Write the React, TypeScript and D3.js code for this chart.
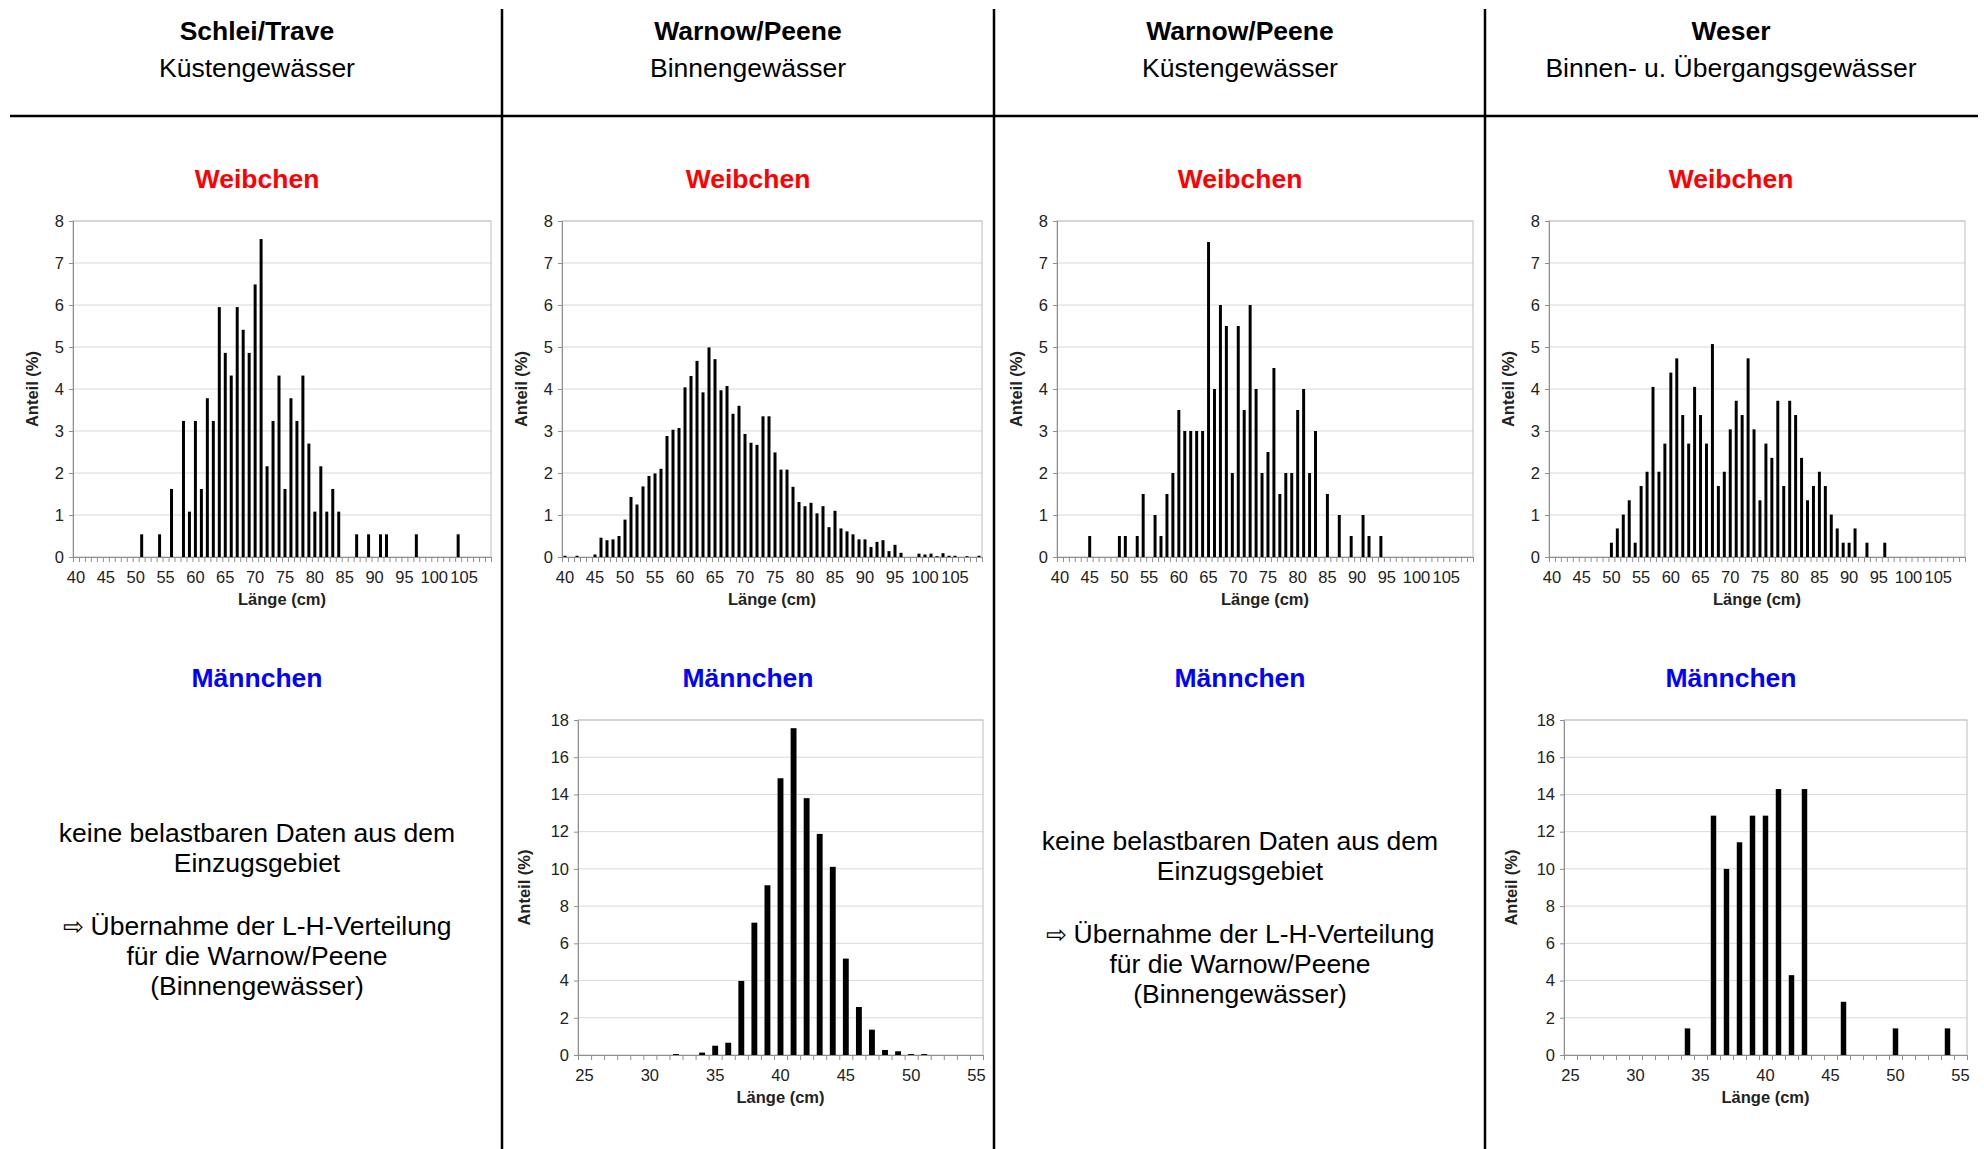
import React, { useEffect, useRef } from "react"
import * as d3 from "d3"

// length classes (cm)
const femaleLengths = d3.range(40, 110)
const maleLengths = d3.range(25, 56)
const femaleTickLabels = [40, 45, 50, 55, 60, 65, 70, 75, 80, 85, 90, 95, 100, 105]
const maleTickLabels = [25, 30, 35, 40, 45, 50, 55]
const femaleYTicks = [0, 1, 2, 3, 4, 5, 6, 7, 8]
const maleYTicks = [0, 2, 4, 6, 8, 10, 12, 14, 16, 18]

// Anteil (%) per length class, 40..109 cm
const schleiTraveFemale = [
  0, 0, 0, 0, 0, 0, 0, 0, 0, 0,
  0, 0.54, 0, 0, 0.54, 0, 1.62, 0, 3.24, 1.08,
  3.24, 1.62, 3.78, 3.24, 5.95, 4.86, 4.32, 5.95, 5.41, 4.86,
  6.49, 7.57, 2.16, 3.24, 4.32, 1.62, 3.78, 3.24, 4.32, 2.7,
  1.08, 2.16, 1.08, 1.62, 1.08, 0, 0, 0.54, 0, 0.54,
  0, 0.54, 0.54, 0, 0, 0, 0, 0.54, 0, 0,
  0, 0, 0, 0, 0.54, 0, 0, 0, 0, 0,
]
const warnowBinnenFemale = [
  0.03, 0, 0.03, 0, 0, 0.06, 0.46, 0.4, 0.42, 0.5,
  0.89, 1.43, 1.25, 1.68, 1.93, 1.99, 2.1, 2.88, 3.03, 3.07,
  4.04, 4.31, 4.67, 3.92, 4.99, 4.71, 3.97, 4.07, 3.41, 3.6,
  2.93, 2.72, 2.67, 3.35, 3.35, 2.49, 2.08, 2.08, 1.67, 1.31,
  1.21, 1.29, 1.04, 1.21, 0.71, 1.1, 0.68, 0.61, 0.54, 0.42,
  0.42, 0.24, 0.36, 0.4, 0.14, 0.29, 0.1, 0, 0, 0.08,
  0.06, 0.08, 0.02, 0.09, 0.03, 0.03, 0, 0.02, 0, 0.03,
]
const warnowKuesteFemale = [
  0, 0, 0, 0, 0, 0.5, 0, 0, 0, 0,
  0.5, 0.5, 0, 0.5, 1.5, 0, 1, 0.5, 1.5, 2,
  3.5, 3, 3, 3, 3, 7.5, 4, 6, 5.5, 2,
  5.5, 3.5, 6, 4, 2, 2.5, 4.5, 1.5, 2, 2,
  3.5, 4, 2, 3, 0, 1.5, 0, 1, 0, 0.5,
  0, 1, 0.5, 0, 0.5, 0, 0, 0, 0, 0,
  0, 0, 0, 0, 0, 0, 0, 0, 0, 0,
]
const weserFemale = [
  0, 0, 0, 0, 0, 0, 0, 0, 0, 0,
  0.34, 0.68, 1.01, 1.35, 0.34, 1.69, 2.03, 4.05, 2.03, 2.7,
  4.39, 4.73, 3.38, 2.7, 4.05, 3.38, 2.7, 5.07, 1.69, 2.03,
  3.04, 3.72, 3.38, 4.73, 3.04, 1.35, 2.7, 2.36, 3.72, 1.69,
  3.72, 3.38, 2.36, 1.35, 1.69, 2.03, 1.69, 1.01, 0.68, 0.34,
  0.34, 0.68, 0, 0.34, 0, 0, 0.34, 0, 0, 0,
  0, 0, 0, 0, 0, 0, 0, 0, 0, 0,
]

// Anteil (%) per length class, 25..55 cm
const warnowBinnenMale = [
  0, 0, 0, 0, 0, 0, 0, 0.05, 0, 0.13,
  0.5, 0.66, 3.98, 7.11, 9.12, 14.87, 17.56, 13.8, 11.88, 10.11,
  5.18, 2.58, 1.36, 0.27, 0.2, 0.05, 0.05, 0, 0, 0,
  0,
]
const weserMale = [
  0, 0, 0, 0, 0, 0, 0, 0, 0, 1.43,
  0, 12.86, 10, 11.43, 12.86, 12.86, 14.29, 4.29, 14.29, 0,
  0, 2.86, 0, 0, 0, 1.43, 0, 0, 0, 1.43,
  0,
]

const regions = ["Schlei/Trave", "Warnow/Peene", "Warnow/Peene", "Weser"]
const waterTypes = ["Küstengewässer", "Binnengewässer", "Küstengewässer", "Binnen- u. Übergangsgewässer"]
const noDataLines = [
  "keine belastbaren Daten aus dem",
  "Einzugsgebiet",
  "",
  "Übernahme der L-H-Verteilung",
  "für die Warnow/Peene",
  "(Binnengewässer)",
]

const FONT = "'Liberation Sans', Arial, Helvetica, sans-serif"
const W = 1984
const H = 1149
const colCenters = [257, 748, 1240, 1731]
const dividers = [502, 994, 1485]

type HistProps = {
  left: number
  top: number
  width: number
  height: number
  cats: number[]
  values: number[]
  tickLabels: number[]
  yTicks: number[]
  pad: number
  titleOffset: number
}

const Histogram = ({ left, top, width, height, cats, values, tickLabels, yTicks, pad, titleOffset }: HistProps) => {
  const ref = useRef<SVGGElement>(null)

  useEffect(() => {
    const g = d3.select(ref.current)
    g.selectAll("*").remove()

    const x = d3
      .scaleBand<number>()
      .domain(cats)
      .range([0, width])
      .paddingInner(pad)
      .paddingOuter(pad / 2)
    const edges = d3.scaleLinear().domain([0, cats.length]).range([0, width])
    const y = d3
      .scaleLinear()
      .domain([0, d3.max(yTicks)!])
      .range([height, 0])

    g.selectAll("line.grid")
      .data(yTicks.filter((t) => t > 0))
      .join("line")
      .attr("class", "grid")
      .attr("x1", 0)
      .attr("x2", width)
      .attr("y1", (d) => y(d))
      .attr("y2", (d) => y(d))
      .attr("stroke", "#d9d9d9")
      .attr("stroke-width", 1)

    g.append("rect")
      .attr("width", width)
      .attr("height", height)
      .attr("fill", "none")
      .attr("stroke", "#bdbdbd")
      .attr("stroke-width", 1)

    g.selectAll("rect.bar")
      .data(values.map((v, i) => ({ c: cats[i], v })).filter((d) => d.v > 0))
      .join("rect")
      .attr("class", "bar")
      .attr("x", (d) => x(d.c)!)
      .attr("width", x.bandwidth())
      .attr("y", (d) => y(d.v))
      .attr("height", (d) => height - y(d.v))
      .attr("fill", "#000")

    const yAxis = g.append("g").call(d3.axisLeft(y).tickValues(yTicks).tickSize(4).tickPadding(5))
    yAxis.select(".domain").attr("stroke", "#8f8f8f")
    yAxis.selectAll(".tick line").attr("stroke", "#8f8f8f")
    yAxis
      .selectAll("text")
      .attr("font-size", 16.5)
      .attr("font-family", FONT)
      .attr("fill", "#222")

    const xAxis = g
      .append("g")
      .attr("transform", `translate(0,${height})`)
      .call(
        d3
          .axisBottom(edges)
          .tickValues(d3.range(cats.length + 1))
          .tickSize(5)
          .tickSizeOuter(0)
          .tickFormat(() => "")
      )
    xAxis.select(".domain").attr("stroke", "#8f8f8f")
    xAxis.selectAll(".tick line").attr("stroke", "#8f8f8f")

    g.selectAll("text.xl")
      .data(tickLabels)
      .join("text")
      .attr("class", "xl")
      .attr("x", (d) => x(d)! + x.bandwidth() / 2)
      .attr("y", height + 26)
      .attr("text-anchor", "middle")
      .attr("font-size", 16.5)
      .attr("font-family", FONT)
      .attr("fill", "#222")
      .text((d) => d)

    g.append("text")
      .attr("x", width / 2)
      .attr("y", height + 48)
      .attr("text-anchor", "middle")
      .attr("font-size", 16.5)
      .attr("font-weight", "bold")
      .attr("font-family", FONT)
      .attr("fill", "#222")
      .text("Länge (cm)")

    g.append("text")
      .attr("transform", `translate(${-titleOffset},${height / 2}) rotate(-90)`)
      .attr("dy", "0.35em")
      .attr("text-anchor", "middle")
      .attr("font-size", 16.5)
      .attr("font-weight", "bold")
      .attr("font-family", FONT)
      .attr("fill", "#222")
      .text("Anteil (%)")
  }, [])

  return <g ref={ref} transform={`translate(${left},${top})`} />
}

const NoData = ({ cx, top }: { cx: number; top: number }) => (
  <text textAnchor="middle" fontFamily={FONT} fontSize={26.5} fill="#000">
    {noDataLines.map((line, i) =>
      line === "" ? null : (
        <tspan key={i} x={cx} y={top + [0, 30, 0, 93, 123, 153][i]}>
          {i === 3 ? <tspan fontSize={25}>{"⇨ "}</tspan> : null}
          {line}
        </tspan>
      )
    )}
  </text>
)

const App = () => {
  const femaleTop = 221
  const femaleH = 336
  const maleTop = 720
  const maleH = 335
  const femaleCharts = [
    { left: 73, width: 418, values: schleiTraveFemale },
    { left: 562, width: 420, values: warnowBinnenFemale },
    { left: 1057, width: 416, values: warnowKuesteFemale },
    { left: 1549, width: 416, values: weserFemale },
  ]

  return (
    <div style={{ position: "absolute", left: 0, top: 0, background: "#fff" }}>
      <svg width={W} height={H} style={{ display: "block", background: "#fff" }}>
        {dividers.map((dx) => (
          <line key={dx} x1={dx} x2={dx} y1={9} y2={H} stroke="#000" strokeWidth={2.5} />
        ))}
        <line x1={10} x2={1978} y1={116} y2={116} stroke="#000" strokeWidth={2.5} />

        {colCenters.map((cx, i) => (
          <g key={i} fontFamily={FONT} textAnchor="middle">
            <text x={cx} y={40} fontSize={26.5} fontWeight="bold">
              {regions[i]}
            </text>
            <text x={cx} y={77} fontSize={26.5}>
              {waterTypes[i]}
            </text>
            <text x={cx} y={188} fontSize={26.5} fontWeight="bold" fill="#ff0000">
              Weibchen
            </text>
            <text x={cx} y={687} fontSize={26.5} fontWeight="bold" fill="#0000ff">
              Männchen
            </text>
          </g>
        ))}

        {femaleCharts.map((c, i) => (
          <Histogram
            key={i}
            left={c.left}
            top={femaleTop}
            width={c.width}
            height={femaleH}
            cats={femaleLengths}
            values={c.values}
            tickLabels={femaleTickLabels}
            yTicks={femaleYTicks}
            pad={0.5}
            titleOffset={41}
          />
        ))}

        <Histogram
          left={578}
          top={maleTop}
          width={405}
          height={maleH}
          cats={maleLengths}
          values={warnowBinnenMale}
          tickLabels={maleTickLabels}
          yTicks={maleYTicks}
          pad={0.55}
          titleOffset={54}
        />
        <Histogram
          left={1564}
          top={maleTop}
          width={403}
          height={maleH}
          cats={maleLengths}
          values={weserMale}
          tickLabels={maleTickLabels}
          yTicks={maleYTicks}
          pad={0.58}
          titleOffset={53}
        />

        <NoData cx={colCenters[0]} top={842} />
        <NoData cx={colCenters[2]} top={850} />
      </svg>
    </div>
  )
}

export default App
